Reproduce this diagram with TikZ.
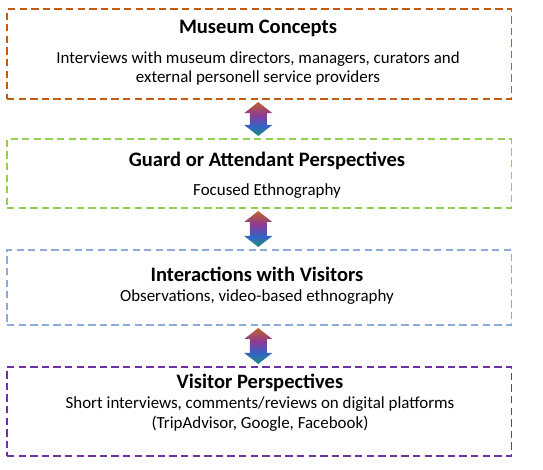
\documentclass[tikz,border=0pt]{standalone}
\usepackage{fontspec}
\setmainfont{Carlito}
\usetikzlibrary{calc}
\definecolor{conceptcol}{HTML}{C55A11}
\definecolor{guardcol}{HTML}{92D050}
\definecolor{intercol}{HTML}{8EA9DB}
\definecolor{visitorcol}{HTML}{7030A0}
\definecolor{arrtop}{HTML}{C0602A}
\definecolor{arrmid}{HTML}{8E3A96}
\definecolor{arrblue}{HTML}{3462C6}
\definecolor{arrbot}{HTML}{1E8F7C}
\pgfdeclareverticalshading{arrowgrad}{100bp}{color(0bp)=(arrbot); color(25bp)=(arrbot); color(40bp)=(arrblue); color(56bp)=(arrmid); color(75bp)=(arrtop); color(100bp)=(arrtop)}
\tikzset{
  stagebox/.style={draw, line width=1.4pt, dash pattern=on 5.5pt off 3.2pt, inner sep=0pt, outer sep=0pt, minimum width=378.4pt},
  stagetitle/.style={anchor=base, font=\fontsize{15.4}{18}\selectfont\bfseries},
  stagetext/.style={anchor=base, align=center, font=\fontsize{12.7}{14.6}\selectfont}
}
\begin{document}
\begin{tikzpicture}[x=0.75pt, y=-0.75pt]
    \useasboundingbox (0,0) rectangle (543,470);
    % Boxes
    \node [stagebox, draw=conceptcol, minimum height=67.3pt] (concepts) at (259.25,54.2) {};
    \node [stagebox, draw=guardcol, minimum height=51.75pt] (guard) at (259.25,173.5) {};
    \node [stagebox, draw=intercol, line width=1.1pt, minimum height=56.25pt] (inter) at (259.25,287.5) {};
    \node [stagebox, draw=visitorcol, minimum height=66.5pt] (visitor) at (259.25,411.3) {};
    % Titles and descriptions (base of a two-line text is its last line)
    \node [stagetitle] (conceptstitle) at (258,34) {Museum Concepts};
    \node [stagetext] (conceptstext) at (258,83) {Interviews with museum directors, managers, curators and\\external personell service providers};
    \node [stagetitle] (guardtitle) at (267,167) {Guard or Attendant Perspectives};
    \node [stagetext] (guardtext) at (267,196) {Focused Ethnography};
    \node [stagetitle] (intertitle) at (257,282) {Interactions with Visitors};
    \node [stagetext] (intertext) at (257,302) {Observations, video-based ethnography};
    \node [stagetitle] (visitortitle) at (260,388) {Visitor Perspectives};
    \node [stagetext] (visitortext) at (260,428) {Short interviews, comments/reviews on digital platforms\\(TripAdvisor, Google, Facebook)};
    % Double arrows between boxes
    \foreach \u/\l in {concepts/guard, guard/inter, inter/visitor}{
        \shade [shading=arrowgrad] ($(\u.south)+(-1,3)$) -- ($(\u.south)+(13,14)$) -- ($(\u.south)+(7.5,14)$)
            -- ($(\l.north)+(7.5,-14)$) -- ($(\l.north)+(13,-14)$) -- ($(\l.north)+(-1,-3)$)
            -- ($(\l.north)+(-15,-14)$) -- ($(\l.north)+(-9.5,-14)$) -- ($(\u.south)+(-9.5,14)$)
            -- ($(\u.south)+(-15,14)$) -- cycle;
    }
\end{tikzpicture}
\end{document}
